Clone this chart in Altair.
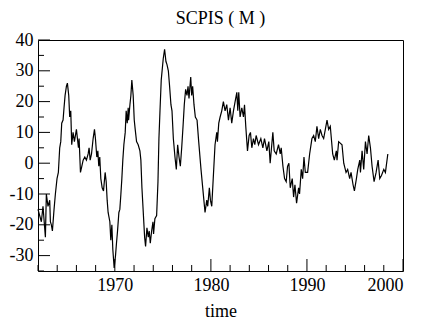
import altair as alt
import pandas as pd

# Monthly-ish readings of the SCPIS series (year, value)
years = [
    1962.00, 1962.35, 1962.52, 1962.77, 1962.87, 1963.04, 1963.22, 1963.29, 1963.39, 1963.50,
    1963.67, 1963.81, 1963.98, 1964.12, 1964.26, 1964.37, 1964.47, 1964.61, 1964.71, 1964.82,
    1964.96, 1965.06, 1965.20, 1965.30, 1965.41, 1965.51, 1965.65, 1965.79, 1966.00, 1966.21,
    1966.28, 1966.42, 1966.56, 1966.70, 1966.87, 1967.04, 1967.22, 1967.32, 1967.43, 1967.57,
    1967.74, 1967.88, 1967.98, 1968.12, 1968.23, 1968.33, 1968.43, 1968.54, 1968.68, 1968.82,
    1968.99, 1969.10, 1969.20, 1969.30, 1969.48, 1969.58, 1969.69, 1969.79, 1969.93, 1970.07,
    1970.17, 1970.28, 1970.42, 1970.52, 1970.63, 1970.73, 1970.83, 1970.94, 1971.08, 1971.18,
    1971.29, 1971.39, 1971.43, 1971.57, 1971.67, 1971.77, 1971.91, 1972.02, 1972.12, 1972.26,
    1972.43, 1972.61, 1972.71, 1972.82, 1972.96, 1973.10, 1973.20, 1973.34, 1973.48, 1973.58,
    1973.69, 1973.83, 1973.97, 1974.03, 1974.17, 1974.35, 1974.49, 1974.59, 1974.70, 1974.83,
    1975.04, 1975.18, 1975.32, 1975.43, 1975.57, 1975.70, 1975.84, 1975.95, 1976.09, 1976.26,
    1976.40, 1976.54, 1976.68, 1976.82, 1976.96, 1977.10, 1977.23, 1977.37, 1977.51, 1977.62,
    1977.72, 1977.90, 1978.00, 1978.10, 1978.24, 1978.38, 1978.56, 1978.73, 1978.97, 1979.15,
    1979.39, 1979.57, 1979.67, 1979.84, 1979.95, 1980.09, 1980.43, 1980.61, 1980.68, 1980.82,
    1980.96, 1981.13, 1981.30, 1981.48, 1981.65, 1981.83, 1982.00, 1982.17, 1982.35, 1982.52,
    1982.70, 1982.80, 1982.90, 1983.04, 1983.22, 1983.39, 1983.50, 1983.63, 1983.81, 1983.98,
    1984.12, 1984.26, 1984.43, 1984.57, 1984.71, 1984.96, 1985.20, 1985.41, 1985.58, 1985.83,
    1986.03, 1986.17, 1986.31, 1986.45, 1986.59, 1986.80, 1987.04, 1987.22, 1987.32, 1987.50,
    1987.67, 1987.84, 1987.98, 1988.12, 1988.26, 1988.47, 1988.61, 1988.75, 1988.92, 1989.13,
    1989.23, 1989.41, 1989.55, 1989.69, 1989.83, 1990.07, 1990.28, 1990.52, 1990.70, 1990.87,
    1991.04, 1991.22, 1991.39, 1991.57, 1991.74, 1992.09, 1992.26, 1992.43, 1992.68, 1992.85,
    1993.06, 1993.13, 1993.30, 1993.65, 1993.83, 1994.07, 1994.24, 1994.45, 1994.59, 1994.80,
    1994.94, 1995.15, 1995.29, 1995.50, 1995.57, 1995.74, 1995.91, 1996.09, 1996.26, 1996.43,
    1996.61, 1996.78, 1996.99, 1997.20, 1997.41, 1997.58, 1997.76, 1998.00, 1998.17, 1998.42,
]
values = [
    -15, -19, -14, -24, -10, -14, -12, -19, -20, -22,
    -15, -10, -5, -3, 5, 7, 13, 14, 18, 22,
    25, 26, 22, 15, 17, 6, 10, 7, 11, 5,
    8, -3, -1, 1, 2, 1, 3, 5, 1, 3,
    8, 11, 8, 2, 4, -1, 2, -5, -8, -9,
    -3, -6, -12, -16, -19, -25, -20, -28, -34, -30,
    -26, -22, -16, -15, -10, -5, 1, 6, 10, 17,
    13, 18, 14, 19, 22, 27, 22, 14, 11, 7,
    6, 4, 1, -8, -16, -24, -27, -21, -24, -22,
    -26, -22, -19, -23, -18, -17, -6, 8, 17, 27,
    34, 37, 33, 32, 30, 25, 19, 17, 8, 2,
    -2, 6, 2, -1, 5, 12, 19, 24, 22, 25,
    21, 28, 22, 25, 19, 15, 14, 7, -2, -8,
    -16, -12, -14, -8, -12, -14, 6, 10, 7, 13,
    15, 17, 20, 17, 19, 14, 18, 13, 17, 20,
    23, 17, 23, 15, 18, 15, 19, 12, 4, 9,
    10, 5, 8, 6, 9, 6, 8, 5, 8, 4,
    7, 0, 5, 10, 4, 3, 6, 3, 5, -1,
    -5, -6, -1, 0, -8, -5, -11, -7, -13, -8,
    -10, -2, -5, 2, -3, -3, 3, 8, 9, 7,
    12, 8, 11, 9, 8, 14, 11, 12, 3, 1,
    4, 1, 7, 6, 0, -3, -2, -5, -3, -7,
    -9, -5, -2, 1, -3, 4, -2, 7, 3, 9,
    5, -1, -6, -3, 1, -5, -4, -2, -3, 3,
]

y_major = [-30, -20, -10, 0, 10, 20, 30, 40]
y_minor = [-35, -25, -15, -5, 5, 15, 25, 35]
x_major = [1970, 1980, 1990, 2000]
x_minor = [1962, 1964, 1966, 1968, 1972, 1974, 1976, 1978,
           1982, 1984, 1986, 1988, 1992, 1994, 1996, 1998]

df = pd.DataFrame({"time": years, "value": values})

W, H = 365, 231
FONT = "Liberation Serif"
xs = alt.Scale(domain=[1962, 2000], nice=False, zero=False)
ys = alt.Scale(domain=[-35, 40], nice=False, zero=False)

x_axis = alt.Axis(values=x_major, labelExpr="'' + datum.value", title="time",
                  ticks=False, tickSize=0, domain=False, grid=False,
                  labelPadding=5, titlePadding=8)
y_axis = alt.Axis(values=y_major, labelExpr="'' + datum.value", title=None,
                  ticks=False, tickSize=0, domain=False, grid=False,
                  labelPadding=5)

line = alt.Chart(df).mark_line(color="black", strokeWidth=1.2).encode(
    x=alt.X("time:Q", scale=xs, axis=x_axis, title="time"),
    y=alt.Y("value:Q", scale=ys, axis=y_axis, title=None),
)

ymaj = alt.Chart(pd.DataFrame({"value": y_major})).mark_rule(color="black", strokeWidth=1).encode(
    y=alt.Y("value:Q", scale=ys, axis=y_axis, title=None), x=alt.value(0), x2=alt.value(12))
ymin = alt.Chart(pd.DataFrame({"value": y_minor})).mark_rule(color="black", strokeWidth=1).encode(
    y=alt.Y("value:Q", scale=ys, axis=y_axis, title=None), x=alt.value(0), x2=alt.value(6))
xmaj = alt.Chart(pd.DataFrame({"time": x_major})).mark_rule(color="black", strokeWidth=1).encode(
    x=alt.X("time:Q", scale=xs, axis=x_axis, title="time"), y=alt.value(H), y2=alt.value(H - 12))
xmin = alt.Chart(pd.DataFrame({"time": x_minor})).mark_rule(color="black", strokeWidth=1).encode(
    x=alt.X("time:Q", scale=xs, axis=x_axis, title="time"), y=alt.value(H), y2=alt.value(H - 6))

chart = alt.layer(line, ymaj, ymin, xmaj, xmin).properties(
    width=W, height=H,
    title=alt.TitleParams("SCPIS ( M )", font=FONT, fontSize=18, fontWeight="normal",
                          color="black", anchor="middle", offset=3),
    autosize=alt.AutoSizeParams(type="none"),
    padding={"left": 30, "top": 32, "right": 12, "bottom": 48},
).configure_view(
    stroke="black", strokeWidth=1
).configure_axis(
    labelFont=FONT, labelFontSize=18, labelColor="black",
    titleFont=FONT, titleFontSize=18, titleColor="black", titleFontWeight="normal",
)

chart.save("out.html", embed_options={"renderer": "svg", "actions": False})
